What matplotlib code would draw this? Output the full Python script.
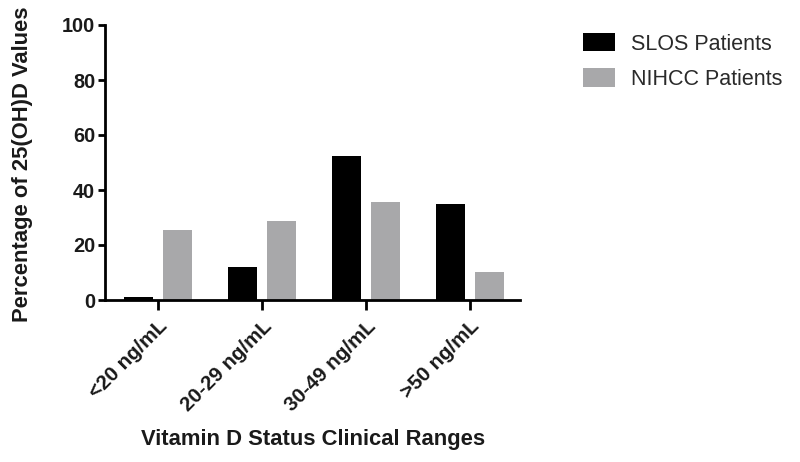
import matplotlib
matplotlib.use("Agg")
import matplotlib.pyplot as plt
import numpy as np
from matplotlib.patches import Patch

categories = ["<20 ng/mL", "20-29 ng/mL", "30-49 ng/mL", ">50 ng/mL"]
slos = [1.2, 12.1, 52.4, 35.0]
nihcc = [25.6, 28.8, 35.7, 10.3]
series_names = ["SLOS Patients", "NIHCC Patients"]
yticks = [0, 20, 40, 60, 80, 100]

plt.rcParams['font.family'] = ['Liberation Sans', 'DejaVu Sans']
TXT = '#1a1a1a'
GRAY = '#a8a8aa'

fig = plt.figure(figsize=(8.0, 4.62), dpi=100)
ax = fig.add_axes([105/800, 1-300/462, (520-105)/800, (300-25)/462])

x = np.arange(len(categories))
w = 0.28
ax.bar(x - 0.19, slos, width=w, color='black', label=series_names[0])
ax.bar(x + 0.19, nihcc, width=w, color=GRAY, label=series_names[1])

ax.set_xlim(-0.51, 3.48)
ax.set_ylim(0, 100)
ax.set_yticks(yticks)
ax.set_xticks(x)
ax.set_xticklabels(categories, rotation=45, ha='right', va='top', rotation_mode='anchor',
                   fontsize=14.8, fontweight='bold', color=TXT)
ax.set_yticklabels([str(v) for v in yticks], fontsize=14.3, fontweight='bold', color=TXT)

for s in ['top', 'right']:
    ax.spines[s].set_visible(False)
for s in ['left', 'bottom']:
    ax.spines[s].set_linewidth(2.0)
    ax.spines[s].set_color('black')
ax.tick_params(axis='y', length=5, width=2.0, pad=2, color='black')
ax.tick_params(axis='x', length=7, width=2.0, pad=5, color='black')

fig.text(313/800, 1-440/462, "Vitamin D Status Clinical Ranges", ha='center', va='center',
         fontsize=15.8, fontweight='bold', color=TXT)
fig.text(23/800, 1-164/462, "Percentage of 25(OH)D Values", ha='center', va='center',
         rotation=90, fontsize=15.8, fontweight='bold', color=TXT)

handles = [Patch(facecolor='black', edgecolor='none'), Patch(facecolor=GRAY, edgecolor='none')]
leg = fig.legend(handles, series_names, loc='upper left', bbox_to_anchor=(583/800, 1-33/462),
                 frameon=False, fontsize=15.5, handlelength=1.49, handleheight=0.93,
                 handletextpad=0.75, labelspacing=0.64, borderpad=0, borderaxespad=0)
for t in leg.get_texts():
    t.set_color('#2a2a2a')

fig.savefig("out.png", dpi=100)
